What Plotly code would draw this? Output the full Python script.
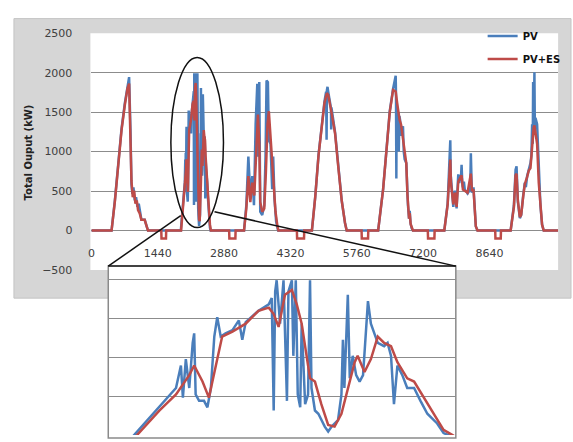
import plotly.graph_objects as go

# ---------------- data (minute of week, kW) ----------------
PV_T = [
    [438, 510, 582, 654, 726, 783, 819, 848, 870, 891, 913, 942, 970, 999, 1028, 1057, 1085, 1157, 1200, 1229],
    [1941, 1994, 2028, 2038, 2042, 2048, 2055, 2062, 2065, 2068, 2075, 2085, 2092, 2099, 2106, 2112, 2119, 2129,
     2143, 2156, 2163, 2170, 2196, 2217, 2223, 2227, 2230, 2233, 2240, 2247, 2254, 2257, 2264, 2267, 2272, 2276,
     2281, 2284, 2291, 2297, 2301, 2304, 2311, 2318, 2324, 2331, 2338, 2345, 2358, 2365, 2368, 2371, 2378, 2382,
     2388, 2395, 2402, 2409, 2419, 2425, 2432, 2439, 2452, 2459, 2466, 2472, 2479, 2489, 2499, 2513, 2526, 2540,
     2560, 2573, 2587],
    [3313, 3363, 3407, 3450, 3493, 3529, 3565, 3601, 3622, 3644, 3665, 3708, 3752, 3780, 3802, 3831, 3852, 3888,
     3924, 3946, 3974, 4010, 4053],
    [4786, 4858, 4930, 5002, 5060, 5095, 5105, 5112, 5125, 5140, 5200, 5205, 5210, 5289, 5361, 5433, 5505, 5541],
    [6224, 6332, 6404, 6476, 6548, 6590, 6605, 6612, 6619, 6626, 6640, 6660, 6672, 6685, 6700, 6720, 6740, 6763,
     6780, 6800, 6835, 6850, 6871, 6895, 6910, 6925, 6950, 6979],
    [7660, 7733, 7769, 7790, 7800, 7819, 7840, 7855, 7875, 7891, 7910, 7927, 7945, 7963, 7985, 8006, 8020, 8035,
     8050, 8064, 8085, 8107, 8135, 8164, 8200, 8225, 8236, 8245, 8258, 8294, 8322, 8344, 8380],
    [9100, 9171, 9207, 9228, 9240, 9257, 9300, 9329, 9372, 9408, 9430, 9458, 9494, 9530, 9550, 9566, 9580, 9588,
     9605, 9616, 9625, 9638, 9674, 9710, 9746, 9782, 9818],
]
PV_V = [
    [0, 382, 875, 1286, 1614, 1819, 1943, 1286, 587, 464, 546, 382, 423, 300, 341, 238, 136, 136, 54, 0],
    [0, 366, 613, 901, 490, 984, 613, 1190, 1313, 531, 449, 449, 366, 613, 1272, 1519, 1272, 1313,
     1354, 1478, 1231, 1457, 1601, 1684, 1766, 325, 1848, 1992, 1437, 1992, 449, 1848, 1992, 1025, 1992, 531,
     366, 1437, 407, 531, 1992, 613, 325, 284, 202, 119, 57, 119, 202, 531, 1231, 613, 1807, 737,
     1025, 778, 696, 778, 1725, 1437, 1313, 1190, 1148, 1190, 1025, 407, 901, 778, 613, 613, 449, 284,
     160, 37, 0],
    [0, 320, 936, 443, 690, 320, 1347, 1860, 936, 1880, 238, 197, 320, 936, 1901, 1880, 1141, 1100,
     525, 936, 402, 115, 0],
    [0, 423, 957, 1368, 1640, 1760, 1150, 1780, 1820, 1760, 1550, 1280, 1560, 1245, 793, 382, 95, 0],
    [0, 525, 1018, 1511, 1798, 1900, 1960, 1700, 660, 1650, 1470, 1500, 1000, 1450, 1400, 1200, 1300, 1320,
     1000, 900, 854, 500, 320, 150, 250, 100, 30, 0],
    [0, 341, 752, 1142, 700, 547, 400, 300, 450, 505, 400, 280, 500, 711, 600, 700, 650, 834,
     600, 547, 620, 505, 500, 470, 500, 600, 978, 550, 480, 547, 218, 53, 0],
    [0, 320, 772, 813, 500, 361, 156, 197, 443, 607, 550, 690, 772, 854, 950, 1347, 1100, 1880,
     1500, 2004, 1300, 1429, 1347, 731, 320, 74, 0],
]

ES_T = [
    [438, 510, 582, 654, 726, 783, 819, 848, 870, 898, 927, 956, 985, 1013, 1049, 1085, 1157, 1200, 1229],
    [1947, 1994, 2028, 2055, 2065, 2082, 2095, 2109, 2122, 2143, 2170, 2196, 2217, 2227, 2237, 2250, 2264, 2274,
     2284, 2294, 2301, 2311, 2324, 2338, 2351, 2365, 2378, 2392, 2398, 2412, 2425, 2439, 2452, 2466, 2479, 2499,
     2513, 2533, 2553, 2573, 2594],
    [3313, 3363, 3407, 3450, 3493, 3536, 3579, 3615, 3644, 3665, 3708, 3752, 3787, 3823, 3852, 3888, 3924, 3960,
     3996, 4039, 4060],
    [4786, 4858, 4930, 5002, 5060, 5110, 5140, 5210, 5289, 5361, 5433, 5505, 5541],
    [6224, 6332, 6404, 6476, 6548, 6605, 6640, 6690, 6720, 6763, 6800, 6835, 6860, 6880, 6895, 6910, 6930, 6979],
    [7660, 7733, 7769, 7790, 7805, 7830, 7855, 7891, 7927, 7963, 8006, 8035, 8064, 8107, 8164, 8236, 8260, 8294,
     8322, 8344, 8380],
    [9100, 9171, 9207, 9228, 9257, 9300, 9329, 9372, 9408, 9458, 9494, 9530, 9555, 9580, 9600, 9616, 9640, 9674,
     9710, 9746, 9782, 9818],
]
ES_V = [
    [0, 370, 860, 1270, 1590, 1800, 1861, 1203, 628, 423, 505, 341, 382, 259, 218, 136, 136, 54, 0],
    [0, 325, 531, 778, 901, 696, 490, 901, 1272, 1334, 1437, 1601, 1642, 1560, 1395, 1807, 1869, 1684,
     1437, 1025, 737, 696, 407, 140, 119, 284, 613, 943, 1025, 819, 984, 1272, 1190, 1148, 943, 737,
     696, 490, 284, 78, 0],
    [0, 279, 690, 361, 607, 443, 936, 1470, 1100, 361, 238, 279, 731, 1347, 1511, 1223, 813, 525,
     238, 53, 0],
    [0, 420, 950, 1360, 1620, 1740, 1720, 1500, 1230, 790, 380, 95, 0],
    [0, 520, 1010, 1500, 1780, 1760, 1600, 1400, 1347, 1150, 950, 850, 450, 300, 150, 220, 80, 0],
    [0, 330, 700, 900, 600, 450, 330, 480, 300, 620, 680, 700, 520, 500, 480, 720, 500, 520,
     218, 53, 0],
    [0, 300, 700, 720, 380, 170, 200, 430, 590, 680, 760, 790, 1018, 1200, 1306, 1330, 1223, 1100,
     607, 320, 74, 0],
]

# night-time storage charging dips of PV+ES (start, end minute, kW)
DIP_START = [1517, 2990, 4460, 5864, 7302, 8765]
DIP_END = [1624, 3130, 4620, 6010, 7450, 8890]
DIP_KW = [-100, -100, -100, -100, -100, -100]

X_END = 10130
X_TICKS = [0, 1440, 2880, 4320, 5760, 7200, 8640]
Y_TICKS = [-500, 0, 500, 1000, 1500, 2000, 2500]
INSET_DAY = 1  # index of the zoomed day

# ---------------- build full series ----------------
pv_x, pv_y = [0], [0]
for t, v in zip(PV_T, PV_V):
    pv_x += t
    pv_y += v
pv_x.append(X_END)
pv_y.append(0)

es_x, es_y = [0], [0]
for i, (t, v) in enumerate(zip(ES_T, ES_V)):
    es_x += t
    es_y += v
    if i < len(DIP_START):
        es_x += [DIP_START[i], DIP_START[i] + 5, DIP_END[i] - 5, DIP_END[i]]
        es_y += [0, DIP_KW[i], DIP_KW[i], 0]
es_x.append(X_END)
es_y.append(0)

BLUE = "#4A7EBB"
RED = "#BE4B48"
W, H = 573, 442


def fx(px):
    return px / W


def fy(py):
    return (H - py) / H


fig = go.Figure()
fig.add_trace(go.Scatter(x=pv_x, y=pv_y, mode="lines", name="PV", legendgroup="a",
                         line=dict(color=BLUE, width=2.5), xaxis="x", yaxis="y"))
fig.add_trace(go.Scatter(x=es_x, y=es_y, mode="lines", name="PV+ES", legendgroup="b",
                         line=dict(color=RED, width=2.5), xaxis="x", yaxis="y"))
fig.add_trace(go.Scatter(x=PV_T[INSET_DAY], y=PV_V[INSET_DAY], mode="lines", showlegend=False,
                         line=dict(color=BLUE, width=2.5), xaxis="x2", yaxis="y2"))
fig.add_trace(go.Scatter(x=ES_T[INSET_DAY], y=ES_V[INSET_DAY], mode="lines", showlegend=False,
                         line=dict(color=RED, width=2.5), xaxis="x2", yaxis="y2"))

tickfont = dict(family="DejaVu Sans", size=11, color="#404040")

shapes = [
    # grey chart panel
    dict(type="rect", xref="paper", yref="paper", x0=fx(10), x1=fx(571), y0=fy(301), y1=fy(13),
         fillcolor="#d6d6d6", line=dict(color="#c4c4c4", width=1), layer="below"),
    # white plot area
    dict(type="rect", xref="paper", yref="paper", x0=fx(87), x1=fx(558), y0=fy(272), y1=fy(28),
         fillcolor="white", line=dict(width=0), layer="below"),
    # inset box
    dict(type="rect", xref="paper", yref="paper", x0=fx(105), x1=fx(455), y0=fy(445), y1=fy(268),
         fillcolor="white", line=dict(color="#8a8a8a", width=1.5), layer="below"),
    dict(type="line", xref="paper", yref="paper", x0=fx(105), x1=fx(455), y0=fy(268), y1=fy(268),
         line=dict(color="#222222", width=1.5), layer="above"),
    # ellipse around the zoomed day
    dict(type="circle", xref="x", yref="y", x0=1725, x1=2867, y0=37, y1=2193,
         line=dict(color="#111111", width=1.5), layer="above"),
    # connector lines
    dict(type="line", xref="paper", yref="paper", x0=fx(178), y0=fy(216), x1=fx(105), y1=fy(268),
         line=dict(color="#111111", width=1.5), layer="above"),
    dict(type="line", xref="paper", yref="paper", x0=fx(212), y0=fy(212), x1=fx(455), y1=fy(268),
         line=dict(color="#111111", width=1.5), layer="above"),
]

fig.update_layout(
    width=W, height=H,
    margin=dict(l=0, r=0, t=0, b=0),
    paper_bgcolor="white",
    plot_bgcolor="rgba(0,0,0,0)",
    shapes=shapes,
    xaxis=dict(domain=[fx(88), fx(558)], range=[0, X_END], anchor="free", position=fy(231),
               tickvals=X_TICKS, ticktext=[str(v) for v in X_TICKS], showgrid=False, zeroline=False,
               showline=False, ticks="", tickfont=tickfont, ticklabelstandoff=15),
    yaxis=dict(domain=[fy(272), fy(28)], range=[-500, 2500], tickvals=Y_TICKS,
               showgrid=True, gridcolor="#8c8c8c", gridwidth=1, zeroline=False, showline=False,
               ticks="", tickfont=tickfont, ticklabelstandoff=18, anchor="x"),
    xaxis2=dict(domain=[fx(105), fx(455)], range=[1890, 2598], showgrid=False, zeroline=False,
                showticklabels=False, ticks="", anchor="y2"),
    yaxis2=dict(domain=[0, fy(268)], range=[12, 2173], tickvals=[0, 500, 1000, 1500, 2000],
                showgrid=True, gridcolor="#8c8c8c", gridwidth=1, zeroline=False,
                showticklabels=False, ticks="", anchor="x2"),
    legend=dict(x=fx(482), y=fy(16), xanchor="left", yanchor="top", bgcolor="rgba(0,0,0,0)",
                font=dict(family="DejaVu Sans", size=10, color="#111111", weight="bold"),
                tracegroupgap=4, itemwidth=30),
    annotations=[dict(text="Total Ouput (kW)", textangle=-90, xref="paper", yref="paper",
                      x=fx(25), y=fy(151), xanchor="center", yanchor="middle", showarrow=False,
                      font=dict(family="DejaVu Sans", size=10, color="#222222", weight="bold"))],
)

fig.write_html("out.html")
